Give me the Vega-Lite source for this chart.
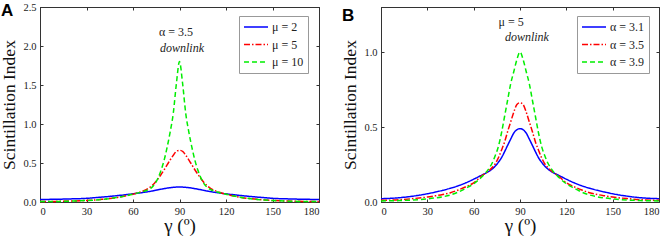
{
  "$schema": "https://vega.github.io/schema/vega-lite/v6.json",
  "padding": {"left": 0, "top": 1, "right": 5, "bottom": 0},
  "spacing": 18,
  "config": {
    "view": {"stroke": "#333", "strokeWidth": 1},
    "axis": {"grid": false, "domainColor": "#333", "tickColor": "#333", "tickSize": -3, "labelFont": "Times New Roman, Liberation Serif, serif", "labelFontSize": 10.5, "labelColor": "#222", "titleFont": "Times New Roman, Liberation Serif, serif", "titleFontWeight": "normal", "titleColor": "#111"},
    "axisX": {"labelPadding": 7, "titlePadding": 0, "titleFontSize": 19},
    "axisY": {"labelPadding": 7, "titlePadding": 4, "titleFontSize": 17.5},
    "text": {"font": "Times New Roman, Liberation Serif, serif", "fontSize": 12, "color": "#222"},
    "legend": {"labelFont": "Times New Roman, Liberation Serif, serif"},
    "title": {"font": "Liberation Sans, Arial, sans-serif", "fontSize": 17, "fontWeight": "bold", "color": "#000", "anchor": "start", "frame": "bounds"}
  },
  "datasets": {
    "A": [
      {"s":"μ = 2","x":0,"y":0.032},{"s":"μ = 2","x":10,"y":0.035},{"s":"μ = 2","x":20,"y":0.04},{"s":"μ = 2","x":30,"y":0.047},{"s":"μ = 2","x":35,"y":0.055},{"s":"μ = 2","x":40,"y":0.063},{"s":"μ = 2","x":45,"y":0.072},{"s":"μ = 2","x":50,"y":0.082},{"s":"μ = 2","x":55,"y":0.093},{"s":"μ = 2","x":60,"y":0.105},{"s":"μ = 2","x":65,"y":0.118},{"s":"μ = 2","x":70,"y":0.133},{"s":"μ = 2","x":72,"y":0.14},{"s":"μ = 2","x":74,"y":0.148},{"s":"μ = 2","x":76,"y":0.156},{"s":"μ = 2","x":78,"y":0.164},{"s":"μ = 2","x":80,"y":0.171},{"s":"μ = 2","x":82,"y":0.178},{"s":"μ = 2","x":84,"y":0.184},{"s":"μ = 2","x":86,"y":0.188},{"s":"μ = 2","x":88,"y":0.191},{"s":"μ = 2","x":90,"y":0.192},{"s":"μ = 2","x":92,"y":0.191},{"s":"μ = 2","x":94,"y":0.188},{"s":"μ = 2","x":96,"y":0.184},{"s":"μ = 2","x":98,"y":0.178},{"s":"μ = 2","x":100,"y":0.171},{"s":"μ = 2","x":102,"y":0.164},{"s":"μ = 2","x":104,"y":0.156},{"s":"μ = 2","x":106,"y":0.148},{"s":"μ = 2","x":108,"y":0.14},{"s":"μ = 2","x":110,"y":0.133},{"s":"μ = 2","x":115,"y":0.118},{"s":"μ = 2","x":120,"y":0.105},{"s":"μ = 2","x":125,"y":0.093},{"s":"μ = 2","x":130,"y":0.082},{"s":"μ = 2","x":135,"y":0.072},{"s":"μ = 2","x":140,"y":0.063},{"s":"μ = 2","x":145,"y":0.055},{"s":"μ = 2","x":150,"y":0.047},{"s":"μ = 2","x":160,"y":0.04},{"s":"μ = 2","x":170,"y":0.035},{"s":"μ = 2","x":180,"y":0.032},
      {"s":"μ = 5","x":0,"y":0.006},{"s":"μ = 5","x":10,"y":0.008},{"s":"μ = 5","x":20,"y":0.012},{"s":"μ = 5","x":30,"y":0.02},{"s":"μ = 5","x":35,"y":0.026},{"s":"μ = 5","x":40,"y":0.034},{"s":"μ = 5","x":45,"y":0.044},{"s":"μ = 5","x":50,"y":0.058},{"s":"μ = 5","x":55,"y":0.077},{"s":"μ = 5","x":60,"y":0.1},{"s":"μ = 5","x":65,"y":0.13},{"s":"μ = 5","x":70,"y":0.175},{"s":"μ = 5","x":72,"y":0.205},{"s":"μ = 5","x":74,"y":0.245},{"s":"μ = 5","x":76,"y":0.295},{"s":"μ = 5","x":78,"y":0.35},{"s":"μ = 5","x":80,"y":0.41},{"s":"μ = 5","x":82,"y":0.475},{"s":"μ = 5","x":84,"y":0.54},{"s":"μ = 5","x":86,"y":0.6},{"s":"μ = 5","x":88,"y":0.65},{"s":"μ = 5","x":90,"y":0.663},{"s":"μ = 5","x":92,"y":0.65},{"s":"μ = 5","x":94,"y":0.6},{"s":"μ = 5","x":96,"y":0.54},{"s":"μ = 5","x":98,"y":0.475},{"s":"μ = 5","x":100,"y":0.41},{"s":"μ = 5","x":102,"y":0.35},{"s":"μ = 5","x":104,"y":0.295},{"s":"μ = 5","x":106,"y":0.245},{"s":"μ = 5","x":108,"y":0.205},{"s":"μ = 5","x":110,"y":0.175},{"s":"μ = 5","x":115,"y":0.13},{"s":"μ = 5","x":120,"y":0.1},{"s":"μ = 5","x":125,"y":0.077},{"s":"μ = 5","x":130,"y":0.058},{"s":"μ = 5","x":135,"y":0.044},{"s":"μ = 5","x":140,"y":0.034},{"s":"μ = 5","x":145,"y":0.026},{"s":"μ = 5","x":150,"y":0.02},{"s":"μ = 5","x":160,"y":0.012},{"s":"μ = 5","x":170,"y":0.008},{"s":"μ = 5","x":180,"y":0.006},
      {"s":"μ = 10","x":0,"y":0.005},{"s":"μ = 10","x":10,"y":0.007},{"s":"μ = 10","x":20,"y":0.011},{"s":"μ = 10","x":30,"y":0.019},{"s":"μ = 10","x":35,"y":0.025},{"s":"μ = 10","x":40,"y":0.033},{"s":"μ = 10","x":45,"y":0.044},{"s":"μ = 10","x":50,"y":0.058},{"s":"μ = 10","x":55,"y":0.077},{"s":"μ = 10","x":60,"y":0.1},{"s":"μ = 10","x":65,"y":0.125},{"s":"μ = 10","x":70,"y":0.16},{"s":"μ = 10","x":72,"y":0.185},{"s":"μ = 10","x":74,"y":0.23},{"s":"μ = 10","x":76,"y":0.3},{"s":"μ = 10","x":78,"y":0.4},{"s":"μ = 10","x":80,"y":0.53},{"s":"μ = 10","x":82,"y":0.7},{"s":"μ = 10","x":84,"y":0.9},{"s":"μ = 10","x":86,"y":1.14},{"s":"μ = 10","x":88,"y":1.52},{"s":"μ = 10","x":90,"y":1.8},{"s":"μ = 10","x":92,"y":1.52},{"s":"μ = 10","x":94,"y":1.14},{"s":"μ = 10","x":96,"y":0.9},{"s":"μ = 10","x":98,"y":0.7},{"s":"μ = 10","x":100,"y":0.53},{"s":"μ = 10","x":102,"y":0.4},{"s":"μ = 10","x":104,"y":0.3},{"s":"μ = 10","x":106,"y":0.23},{"s":"μ = 10","x":108,"y":0.185},{"s":"μ = 10","x":110,"y":0.16},{"s":"μ = 10","x":115,"y":0.125},{"s":"μ = 10","x":120,"y":0.1},{"s":"μ = 10","x":125,"y":0.077},{"s":"μ = 10","x":130,"y":0.058},{"s":"μ = 10","x":135,"y":0.044},{"s":"μ = 10","x":140,"y":0.033},{"s":"μ = 10","x":145,"y":0.025},{"s":"μ = 10","x":150,"y":0.019},{"s":"μ = 10","x":160,"y":0.011},{"s":"μ = 10","x":170,"y":0.007},{"s":"μ = 10","x":180,"y":0.005}
    ],
    "B": [
      {"s":"α = 3.1","x":0,"y":0.022},{"s":"α = 3.1","x":10,"y":0.027},{"s":"α = 3.1","x":20,"y":0.038},{"s":"α = 3.1","x":30,"y":0.055},{"s":"α = 3.1","x":35,"y":0.066},{"s":"α = 3.1","x":40,"y":0.078},{"s":"α = 3.1","x":45,"y":0.092},{"s":"α = 3.1","x":50,"y":0.108},{"s":"α = 3.1","x":55,"y":0.128},{"s":"α = 3.1","x":60,"y":0.152},{"s":"α = 3.1","x":65,"y":0.178},{"s":"α = 3.1","x":70,"y":0.205},{"s":"α = 3.1","x":72,"y":0.22},{"s":"α = 3.1","x":74,"y":0.24},{"s":"α = 3.1","x":76,"y":0.265},{"s":"α = 3.1","x":78,"y":0.295},{"s":"α = 3.1","x":80,"y":0.335},{"s":"α = 3.1","x":82,"y":0.378},{"s":"α = 3.1","x":84,"y":0.42},{"s":"α = 3.1","x":86,"y":0.46},{"s":"α = 3.1","x":88,"y":0.482},{"s":"α = 3.1","x":90,"y":0.489},{"s":"α = 3.1","x":92,"y":0.482},{"s":"α = 3.1","x":94,"y":0.46},{"s":"α = 3.1","x":96,"y":0.42},{"s":"α = 3.1","x":98,"y":0.378},{"s":"α = 3.1","x":100,"y":0.335},{"s":"α = 3.1","x":102,"y":0.295},{"s":"α = 3.1","x":104,"y":0.265},{"s":"α = 3.1","x":106,"y":0.24},{"s":"α = 3.1","x":108,"y":0.22},{"s":"α = 3.1","x":110,"y":0.205},{"s":"α = 3.1","x":115,"y":0.178},{"s":"α = 3.1","x":120,"y":0.152},{"s":"α = 3.1","x":125,"y":0.128},{"s":"α = 3.1","x":130,"y":0.108},{"s":"α = 3.1","x":135,"y":0.092},{"s":"α = 3.1","x":140,"y":0.078},{"s":"α = 3.1","x":145,"y":0.066},{"s":"α = 3.1","x":150,"y":0.055},{"s":"α = 3.1","x":160,"y":0.038},{"s":"α = 3.1","x":170,"y":0.027},{"s":"α = 3.1","x":180,"y":0.022},
      {"s":"α = 3.5","x":0,"y":0.011},{"s":"α = 3.5","x":10,"y":0.014},{"s":"α = 3.5","x":20,"y":0.022},{"s":"α = 3.5","x":30,"y":0.033},{"s":"α = 3.5","x":35,"y":0.041},{"s":"α = 3.5","x":40,"y":0.05},{"s":"α = 3.5","x":45,"y":0.062},{"s":"α = 3.5","x":50,"y":0.08},{"s":"α = 3.5","x":55,"y":0.102},{"s":"α = 3.5","x":60,"y":0.128},{"s":"α = 3.5","x":65,"y":0.172},{"s":"α = 3.5","x":70,"y":0.21},{"s":"α = 3.5","x":72,"y":0.23},{"s":"α = 3.5","x":74,"y":0.255},{"s":"α = 3.5","x":76,"y":0.295},{"s":"α = 3.5","x":78,"y":0.345},{"s":"α = 3.5","x":80,"y":0.4},{"s":"α = 3.5","x":82,"y":0.47},{"s":"α = 3.5","x":84,"y":0.535},{"s":"α = 3.5","x":86,"y":0.6},{"s":"α = 3.5","x":88,"y":0.65},{"s":"α = 3.5","x":90,"y":0.662},{"s":"α = 3.5","x":92,"y":0.65},{"s":"α = 3.5","x":94,"y":0.6},{"s":"α = 3.5","x":96,"y":0.535},{"s":"α = 3.5","x":98,"y":0.47},{"s":"α = 3.5","x":100,"y":0.4},{"s":"α = 3.5","x":102,"y":0.345},{"s":"α = 3.5","x":104,"y":0.295},{"s":"α = 3.5","x":106,"y":0.255},{"s":"α = 3.5","x":108,"y":0.23},{"s":"α = 3.5","x":110,"y":0.21},{"s":"α = 3.5","x":115,"y":0.172},{"s":"α = 3.5","x":120,"y":0.128},{"s":"α = 3.5","x":125,"y":0.102},{"s":"α = 3.5","x":130,"y":0.08},{"s":"α = 3.5","x":135,"y":0.062},{"s":"α = 3.5","x":140,"y":0.05},{"s":"α = 3.5","x":145,"y":0.041},{"s":"α = 3.5","x":150,"y":0.033},{"s":"α = 3.5","x":160,"y":0.022},{"s":"α = 3.5","x":170,"y":0.014},{"s":"α = 3.5","x":180,"y":0.011},
      {"s":"α = 3.9","x":0,"y":0.007},{"s":"α = 3.9","x":10,"y":0.009},{"s":"α = 3.9","x":20,"y":0.013},{"s":"α = 3.9","x":30,"y":0.021},{"s":"α = 3.9","x":35,"y":0.027},{"s":"α = 3.9","x":40,"y":0.035},{"s":"α = 3.9","x":45,"y":0.047},{"s":"α = 3.9","x":50,"y":0.066},{"s":"α = 3.9","x":55,"y":0.092},{"s":"α = 3.9","x":60,"y":0.122},{"s":"α = 3.9","x":65,"y":0.165},{"s":"α = 3.9","x":70,"y":0.225},{"s":"α = 3.9","x":72,"y":0.26},{"s":"α = 3.9","x":74,"y":0.31},{"s":"α = 3.9","x":76,"y":0.37},{"s":"α = 3.9","x":78,"y":0.46},{"s":"α = 3.9","x":80,"y":0.57},{"s":"α = 3.9","x":82,"y":0.68},{"s":"α = 3.9","x":84,"y":0.79},{"s":"α = 3.9","x":86,"y":0.87},{"s":"α = 3.9","x":88,"y":0.95},{"s":"α = 3.9","x":90,"y":1.0},{"s":"α = 3.9","x":92,"y":0.95},{"s":"α = 3.9","x":94,"y":0.87},{"s":"α = 3.9","x":96,"y":0.79},{"s":"α = 3.9","x":98,"y":0.68},{"s":"α = 3.9","x":100,"y":0.57},{"s":"α = 3.9","x":102,"y":0.46},{"s":"α = 3.9","x":104,"y":0.37},{"s":"α = 3.9","x":106,"y":0.31},{"s":"α = 3.9","x":108,"y":0.26},{"s":"α = 3.9","x":110,"y":0.225},{"s":"α = 3.9","x":115,"y":0.165},{"s":"α = 3.9","x":120,"y":0.122},{"s":"α = 3.9","x":125,"y":0.092},{"s":"α = 3.9","x":130,"y":0.066},{"s":"α = 3.9","x":135,"y":0.047},{"s":"α = 3.9","x":140,"y":0.035},{"s":"α = 3.9","x":145,"y":0.027},{"s":"α = 3.9","x":150,"y":0.021},{"s":"α = 3.9","x":160,"y":0.013},{"s":"α = 3.9","x":170,"y":0.009},{"s":"α = 3.9","x":180,"y":0.007}
    ]
  },
  "hconcat": [
    {
      "width": 279, "height": 195,
      "title": {"text": "A", "dy": 22},
      "layer": [
        {
          "data": {"name": "A"},
          "mark": {"type": "line", "strokeWidth": 1.5, "interpolate": "monotone"},
          "encoding": {
            "x": {"field": "x", "type": "quantitative", "scale": {"domain": [0, 180], "nice": false}, "axis": {"values": [0, 30, 60, 90, 120, 150, 180], "title": "γ (º)"}},
            "y": {"field": "y", "type": "quantitative", "scale": {"domain": [0, 2.5], "nice": false}, "axis": {"values": [0, 0.5, 1, 1.5, 2, 2.5], "format": ".1f", "title": "Scintillation Index"}},
            "color": {"field": "s", "type": "nominal", "scale": {"domain": ["μ = 2", "μ = 5", "μ = 10"], "range": ["#0000ff", "#ff0000", "#00ee00"]}, "legend": {"title": null, "orient": "none", "legendX": 199, "legendY": 9, "strokeColor": "#999", "padding": 4, "symbolType": "stroke", "symbolSize": 576, "symbolStrokeWidth": 1.5, "clipHeight": 14, "rowPadding": 3.5, "labelOffset": 3, "labelFontSize": 12, "labelColor": "#222"}},
            "strokeDash": {"field": "s", "type": "nominal", "scale": {"domain": ["μ = 2", "μ = 5", "μ = 10"], "range": [[1, 0], [6, 2, 1.5, 2], [5, 3]]}, "legend": {"title": null, "orient": "none", "legendX": 199, "legendY": 9, "strokeColor": "#999", "padding": 4, "symbolType": "stroke", "symbolSize": 576, "symbolStrokeWidth": 1.5, "clipHeight": 14, "rowPadding": 3.5, "labelOffset": 3, "labelFontSize": 12, "labelColor": "#222"}}
          }
        },
        {
          "data": {"name": "A"},
          "mark": {"type": "line", "opacity": 0},
          "encoding": {
            "x": {"field": "x", "type": "quantitative", "axis": {"orient": "top", "values": [0, 30, 60, 90, 120, 150, 180], "labels": false, "title": null}},
            "y": {"field": "y", "type": "quantitative", "axis": {"orient": "right", "values": [0, 0.5, 1, 1.5, 2, 2.5], "labels": false, "title": null}}
          }
        },
        {
          "data": {"values": [{"t": "α = 3.5", "x": 87.7, "y": 2.18}]},
          "mark": {"type": "text"},
          "encoding": {"x": {"field": "x", "type": "quantitative", "axis": null}, "y": {"field": "y", "type": "quantitative", "axis": null}, "text": {"field": "t"}}
        },
        {
          "data": {"values": [{"t": "downlink", "x": 91.6, "y": 1.98}]},
          "mark": {"type": "text", "fontStyle": "italic"},
          "encoding": {"x": {"field": "x", "type": "quantitative", "axis": null}, "y": {"field": "y", "type": "quantitative", "axis": null}, "text": {"field": "t"}}
        }
      ],
      "resolve": {"axis": {"x": "independent", "y": "independent"}}
    },
    {
      "width": 278, "height": 195,
      "title": {"text": "B", "dy": 22},
      "layer": [
        {
          "data": {"name": "B"},
          "mark": {"type": "line", "strokeWidth": 1.5, "interpolate": "monotone"},
          "encoding": {
            "x": {"field": "x", "type": "quantitative", "scale": {"domain": [0, 180], "nice": false}, "axis": {"values": [0, 30, 60, 90, 120, 150, 180], "title": "γ (º)"}},
            "y": {"field": "y", "type": "quantitative", "scale": {"domain": [0, 1.3], "nice": false}, "axis": {"values": [0, 0.5, 1], "format": ".1f", "title": "Scintillation Index"}},
            "color": {"field": "s", "type": "nominal", "scale": {"domain": ["α = 3.1", "α = 3.5", "α = 3.9"], "range": ["#0000ff", "#ff0000", "#00ee00"]}, "legend": {"title": null, "orient": "none", "legendX": 196, "legendY": 9, "strokeColor": "#999", "padding": 4, "symbolType": "stroke", "symbolSize": 576, "symbolStrokeWidth": 1.5, "clipHeight": 14, "rowPadding": 3.5, "labelOffset": 3, "labelFontSize": 12, "labelColor": "#222"}},
            "strokeDash": {"field": "s", "type": "nominal", "scale": {"domain": ["α = 3.1", "α = 3.5", "α = 3.9"], "range": [[1, 0], [6, 2, 1.5, 2], [5, 3]]}, "legend": {"title": null, "orient": "none", "legendX": 196, "legendY": 9, "strokeColor": "#999", "padding": 4, "symbolType": "stroke", "symbolSize": 576, "symbolStrokeWidth": 1.5, "clipHeight": 14, "rowPadding": 3.5, "labelOffset": 3, "labelFontSize": 12, "labelColor": "#222"}}
          }
        },
        {
          "data": {"name": "B"},
          "mark": {"type": "line", "opacity": 0},
          "encoding": {
            "x": {"field": "x", "type": "quantitative", "axis": {"orient": "top", "values": [0, 30, 60, 90, 120, 150, 180], "labels": false, "title": null}},
            "y": {"field": "y", "type": "quantitative", "axis": {"orient": "right", "values": [0, 0.5, 1], "labels": false, "title": null}}
          }
        },
        {
          "data": {"values": [{"t": "μ = 5", "x": 84.2, "y": 1.2}]},
          "mark": {"type": "text"},
          "encoding": {"x": {"field": "x", "type": "quantitative", "axis": null}, "y": {"field": "y", "type": "quantitative", "axis": null}, "text": {"field": "t"}}
        },
        {
          "data": {"values": [{"t": "downlink", "x": 94.5, "y": 1.1}]},
          "mark": {"type": "text", "fontStyle": "italic"},
          "encoding": {"x": {"field": "x", "type": "quantitative", "axis": null}, "y": {"field": "y", "type": "quantitative", "axis": null}, "text": {"field": "t"}}
        }
      ],
      "resolve": {"axis": {"x": "independent", "y": "independent"}}
    }
  ],
  "resolve": {"scale": {"color": "independent", "strokeDash": "independent"}}
}
